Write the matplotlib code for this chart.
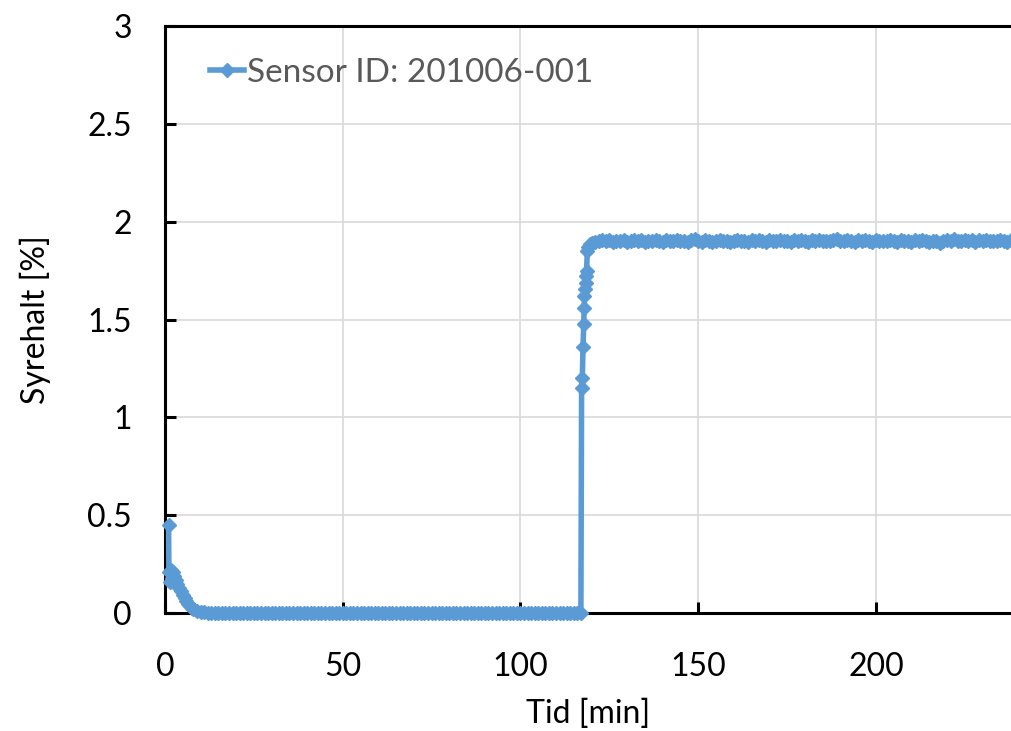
import numpy as np
import matplotlib
matplotlib.use('Agg')
import matplotlib.pyplot as plt

# %% data (time in minutes, oxygen in %)
t_start = [1.0, 1.1, 1.4, 1.7, 2.0, 2.3, 2.6, 3.0, 3.5, 4.0, 4.5, 5.0, 5.5,
           6.0, 6.5, 7.0, 7.5, 8.0, 9.0, 10.0, 11.0, 12.0]
o2_start = [0.45, 0.21, 0.16, 0.22, 0.18, 0.21, 0.19, 0.17, 0.15, 0.13, 0.11,
            0.09, 0.075, 0.06, 0.045, 0.035, 0.025, 0.018, 0.010, 0.006,
            0.003, 0.001]

# flat zero stretch, one reading per minute from 13 to 117 min
t_zero = list(range(13, 118))
o2_zero = [0.0] * len(t_zero)

t_rise = [117.2, 117.4, 117.6, 117.8, 117.9, 118.0, 118.2, 118.3, 118.4,
          118.6, 118.8, 119.1, 119.6, 120.2, 121.0, 122.0]
o2_rise = [1.15, 1.20, 1.36, 1.475, 1.56, 1.62, 1.654, 1.688, 1.722, 1.748,
           1.85, 1.87, 1.885, 1.89, 1.895, 1.90]

# plateau, one reading per minute from 123 to 238 min
t_plat = list(range(123, 239))
o2_plat = [1.905, 1.900, 1.908, 1.897, 1.903, 1.900, 1.906, 1.898, 1.902, 1.907,
           1.899, 1.904, 1.896, 1.903, 1.901, 1.908, 1.900, 1.897, 1.905, 1.902,
           1.899, 1.906, 1.900, 1.903, 1.897, 1.904, 1.909, 1.901, 1.898, 1.905,
           1.900, 1.896, 1.903, 1.907, 1.899, 1.902, 1.895, 1.901, 1.906, 1.900,
           1.903, 1.898, 1.904, 1.900, 1.907, 1.901, 1.897, 1.905, 1.902, 1.899,
           1.906, 1.900, 1.903, 1.898, 1.904, 1.901, 1.908, 1.900, 1.897, 1.904,
           1.902, 1.906, 1.899, 1.903, 1.900, 1.905, 1.910, 1.902, 1.899, 1.906,
           1.901, 1.897, 1.904, 1.900, 1.907, 1.902, 1.898, 1.905, 1.900, 1.903,
           1.899, 1.906, 1.901, 1.897, 1.904, 1.900, 1.902, 1.898, 1.905, 1.901,
           1.907, 1.900, 1.896, 1.903, 1.899, 1.893, 1.900, 1.905, 1.902, 1.909,
           1.903, 1.899, 1.906, 1.900, 1.904, 1.898, 1.905, 1.901, 1.907, 1.900,
           1.903, 1.899, 1.906, 1.902, 1.898, 1.904]

t = np.array(t_start + t_zero + t_rise + t_plat, dtype=float)
o2 = np.array(o2_start + o2_zero + o2_rise + o2_plat)

x_ticks = [0, 50, 100, 150, 200]
y_ticks = [0, 0.5, 1, 1.5, 2, 2.5, 3]
y_ticklabels = ['0', '0.5', '1', '1.5', '2', '2.5', '3']

# %% plot
plt.rcParams['font.family'] = ['Lato', 'DejaVu Sans']
blue = '#5B9BD5'

fig = plt.figure(figsize=(10.11, 7.31), dpi=100)
ax = fig.add_axes([165 / 1011, 1 - 613 / 731, 1 - 165 / 1011, (613 - 26) / 731])

ax.plot(t, o2, '-D', color=blue, lw=4, ms=7.5, mec=blue, mfc=blue,
        clip_on=False, zorder=3, label='Sensor ID: 201006-001')

ax.set_xlim(0, 238)
ax.set_ylim(0, 3)
ax.set_xticks(x_ticks)
ax.set_yticks(y_ticks)
ax.set_yticklabels(y_ticklabels)
ax.grid(True, color='#D9D9D9', lw=1.2)
ax.set_axisbelow(True)

for s in ['left', 'bottom', 'top']:
    ax.spines[s].set_linewidth(2.2)
    ax.spines[s].set_color('black')
ax.spines['right'].set_visible(False)

ax.tick_params(axis='both', direction='in', length=8, width=2.2,
               labelsize=23, colors='black')
ax.tick_params(axis='y', pad=24)
ax.tick_params(axis='x', pad=28)

ax.set_xlabel('Tid [min]', fontsize=23, labelpad=12)
ax.set_ylabel('Syrehalt [%]', fontsize=23, labelpad=26)

leg = ax.legend(loc='upper left', bbox_to_anchor=(0.03, 0.98), frameon=False,
                fontsize=24, handlelength=1.0, handletextpad=0.1,
                borderaxespad=0.2)
for txt in leg.get_texts():
    txt.set_color('#595959')

fig.savefig('out.png', dpi=100)
